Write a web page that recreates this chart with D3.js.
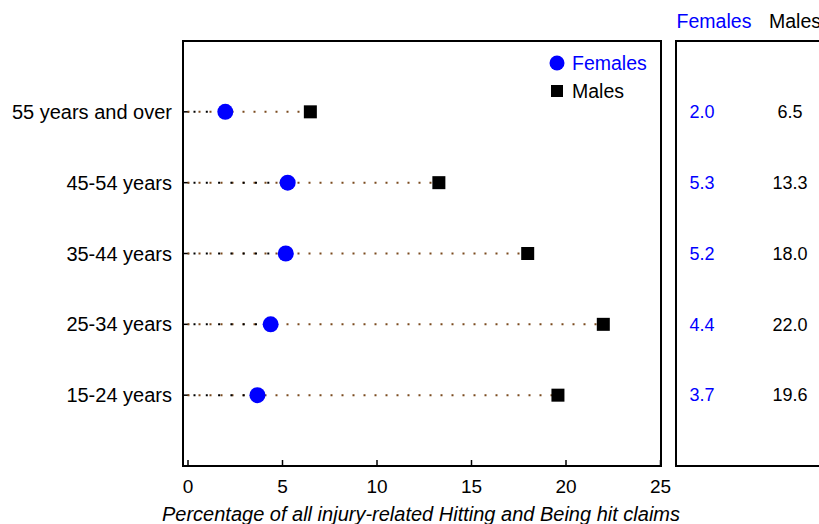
<!DOCTYPE html>
<html><head><meta charset="utf-8">
<script src="https://cdn.jsdelivr.net/npm/d3@7"></script>
<style>body{margin:0;background:#fff;} text{font-family:"Liberation Sans",Arial,sans-serif;}</style>
</head><body>
<svg id="c" width="819" height="524"></svg>
<script>
const categories = ["55 years and over","45-54 years","35-44 years","25-34 years","15-24 years"];
const females = [2.0, 5.3, 5.2, 4.4, 3.7];
const males = [6.5, 13.3, 18.0, 22.0, 19.6];
const xTicks = [0,5,10,15,20,25];

const svg = d3.select("#c");
const L = 183, R = 661, T = 41, B = 466;
const x = d3.scaleLinear().domain([0,25]).range([187.5,660]);
const y = d3.scalePoint().domain(categories).range([T, B]).padding(1);

// frame
svg.append("rect").attr("x",L).attr("y",T).attr("width",R-L).attr("height",B-T)
  .attr("fill","none").attr("stroke","#000").attr("stroke-width",2);

// x axis ticks (inward)
const ax = svg.append("g").attr("transform",`translate(0,${B})`)
  .call(d3.axisBottom(x).tickValues(xTicks).tickSize(-6).tickPadding(14).tickFormat(d3.format("d")));
ax.select(".domain").remove();
ax.selectAll("line").attr("stroke","#000").attr("stroke-width",1.5);
ax.selectAll("text").attr("font-size",19).attr("fill","#000")
  .attr("font-family","Liberation Sans, Arial, sans-serif");

// y ticks small
categories.forEach(c=>{
  svg.append("line").attr("x1",L).attr("x2",L+6).attr("y1",y(c)).attr("y2",y(c)).attr("stroke","#000").attr("stroke-width",1.5);
  svg.append("text").attr("x",172).attr("y",y(c)).attr("dy","0.35em").attr("text-anchor","end")
    .attr("font-size",20).text(c);
});

// dotted lines
categories.forEach((c,i)=>{
  svg.append("line").attr("x1",x(0)).attr("x2",x(males[i])).attr("y1",y(c)).attr("y2",y(c))
    .attr("stroke","#7a4a1e").attr("stroke-width",2).attr("stroke-dasharray","2,9");
  svg.append("line").attr("x1",x(0)+6).attr("x2",x(females[i])).attr("y1",y(c)).attr("y2",y(c))
    .attr("stroke","#000").attr("stroke-width",2).attr("stroke-dasharray","2,10.3");
});

// markers
svg.selectAll("rect.m").data(categories).join("rect").attr("class","m")
  .attr("x",(c,i)=>x(males[i])-6.5).attr("y",c=>y(c)-6.5).attr("width",13).attr("height",13).attr("fill","#000");
svg.selectAll("circle.f").data(categories).join("circle").attr("class","f")
  .attr("cx",(c,i)=>x(females[i])).attr("cy",c=>y(c)).attr("r",8).attr("fill","#0000ff");

// legend
svg.append("circle").attr("cx",557).attr("cy",63).attr("r",7.5).attr("fill","#0000ff");
svg.append("text").attr("x",572).attr("y",63).attr("dy","0.35em").attr("font-size",19.5).attr("fill","#0000ff").text("Females");
svg.append("rect").attr("x",551).attr("y",85).attr("width",12).attr("height",12).attr("fill","#000");
svg.append("text").attr("x",572).attr("y",91).attr("dy","0.35em").attr("font-size",19.5).attr("fill","#000").text("Males");

// axis title
svg.append("text").attr("x",421).attr("y",514).attr("dy","0.35em").attr("text-anchor","middle")
  .attr("font-size",20).attr("font-style","italic").text("Percentage of all injury-related Hitting and Being hit claims");

// right panel
svg.append("path").attr("d",`M830,${T}H676V${B}H830`).attr("fill","none").attr("stroke","#000").attr("stroke-width",2);
svg.append("text").attr("x",714).attr("y",21).attr("dy","0.35em").attr("text-anchor","middle").attr("font-size",19.5).attr("fill","#0000ff").text("Females");
svg.append("text").attr("x",769).attr("y",21).attr("dy","0.35em").attr("font-size",19.5).attr("fill","#000").text("Males");
categories.forEach((c,i)=>{
  svg.append("text").attr("x",702).attr("y",y(c)).attr("dy","0.35em").attr("text-anchor","middle").attr("font-size",18).attr("fill","#0000ff").text(females[i].toFixed(1));
  svg.append("text").attr("x",790).attr("y",y(c)).attr("dy","0.35em").attr("text-anchor","middle").attr("font-size",18).attr("fill","#000").text(males[i].toFixed(1));
});
</script>
</body></html>
